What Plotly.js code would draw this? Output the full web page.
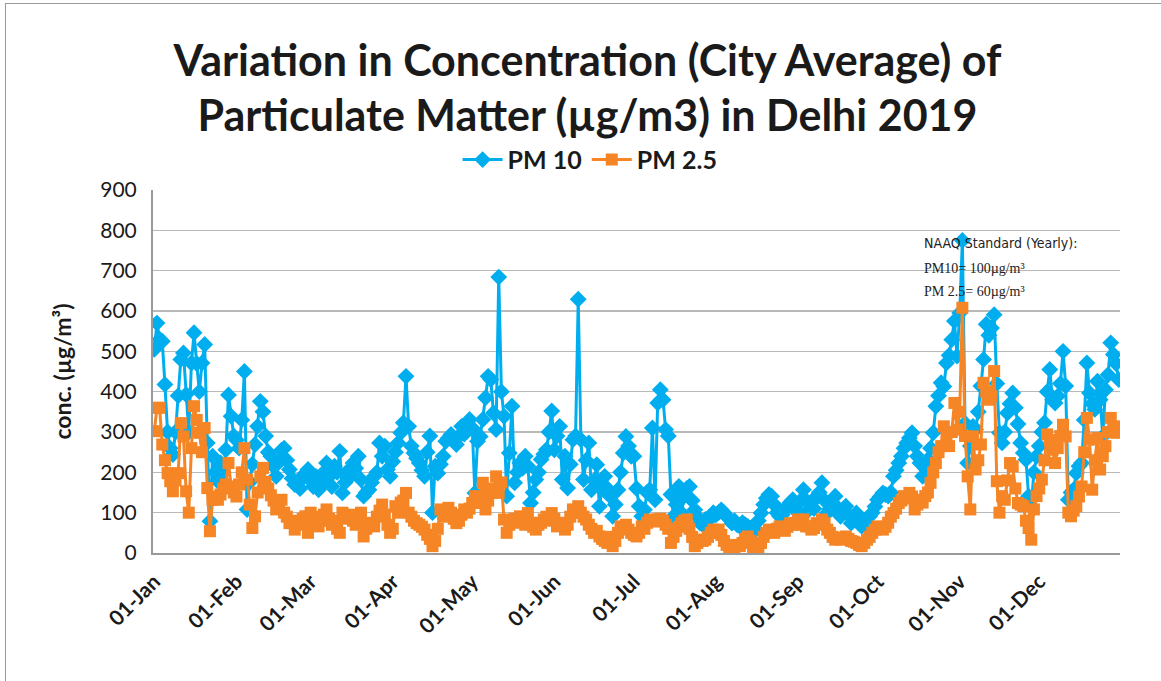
<!DOCTYPE html>
<html>
<head>
<meta charset="utf-8">
<script src="https://cdn.plot.ly/plotly-3.0.1.min.js"></script>
<style>
html,body{margin:0;padding:0;background:#fff;}
#frame{position:absolute;left:5px;top:3px;width:1160px;height:690px;border-left:1px solid #999;border-top:1px solid #999;}
#chart{position:absolute;left:0;top:0;width:1161px;height:681px;}
</style>
</head>
<body>
<div id="frame"></div>
<div id="chart"></div>
<script>
// Daily city-average concentrations, Delhi 2019 (µg/m3)
const startDate = '2019-01-01';
const pm10 = [
  // Jan
  505,570,530,525,418,300,260,244,300,390,480,496,393,300,471,546,470,400,471,517,273,79,240,200,178,223,200,256,392,339,290,
  // Feb
  280,260,330,450,108,176,220,269,314,376,350,290,250,240,215,190,225,255,260,230,207,185,170,178,160,185,198,207,
  // Mar
  180,165,190,157,170,200,223,190,165,215,200,252,149,175,203,190,223,210,240,182,141,150,157,175,190,200,273,240,265,207,190,
  // Apr
  227,250,273,298,323,438,314,265,248,235,223,205,190,250,290,100,215,198,220,240,277,285,294,280,269,290,314,295,302,331,
  // May
  310,149,277,289,331,385,438,430,347,306,684,400,339,141,248,364,174,200,223,210,240,215,124,150,182,200,232,245,256,300,352,
  // Jun
  256,290,314,182,240,161,220,281,290,629,281,182,230,273,157,180,219,116,160,190,160,141,91,120,157,200,248,289,265,240,
  // Jul
  240,160,116,91,107,150,157,310,132,372,405,380,306,290,145,91,120,165,99,141,160,165,130,107,90,74,70,83,80,91,100,
  // Aug
  95,100,107,100,91,85,74,80,70,66,75,70,66,60,65,58,80,99,120,136,145,141,120,100,91,95,107,115,125,132,110,
  // Sep
  99,130,157,130,107,124,110,141,150,174,130,99,110,125,141,110,91,105,116,95,74,85,99,80,66,74,70,91,100,115,
  // Oct
  132,140,149,145,141,150,190,205,223,240,260,273,285,298,265,240,223,190,210,232,260,298,364,390,422,413,471,490,529,575,488,
  // Nov
  595,775,322,223,265,314,306,350,414,480,567,540,558,591,420,298,273,300,347,370,397,360,320,273,248,232,141,116,200,240,
  // Dec
  265,300,323,400,455,380,372,389,420,500,414,132,150,157,198,215,223,330,471,397,370,356,426,380,289,405,442,521,492,470,430
];
const pm25 = [
  // Jan
  302,360,360,269,230,198,178,153,180,198,322,289,153,100,260,364,330,298,250,310,161,54,132,140,132,145,160,170,223,165,150,
  // Feb
  140,170,200,260,182,120,62,91,150,190,211,176,160,143,130,108,120,132,100,90,74,80,58,75,70,85,91,50,
  // Mar
  100,90,75,66,80,95,108,85,70,80,60,50,100,85,90,95,80,70,85,100,41,60,75,70,66,90,105,120,95,70,50,
  // Apr
  60,116,100,125,130,149,100,90,80,74,70,65,58,45,35,17,30,60,108,95,90,112,100,85,74,80,95,108,100,110,
  // May
  124,141,124,140,174,108,130,150,160,190,149,175,83,50,70,80,85,75,91,80,70,99,75,65,58,70,75,83,90,80,99,
  // Jun
  85,66,70,75,58,70,90,108,100,116,100,90,83,70,60,50,55,41,35,30,25,40,17,30,50,66,60,70,58,50,
  // Jul
  45,41,50,66,60,75,83,80,78,83,85,80,70,60,25,40,55,65,74,80,83,60,40,17,25,33,30,33,40,50,58,
  // Aug
  50,58,45,30,20,10,8,15,20,17,25,35,41,30,15,8,12,25,40,50,58,55,50,60,66,60,55,65,74,70,75,
  // Sep
  83,70,83,66,66,58,62,74,70,83,75,58,50,40,33,35,33,38,41,35,30,28,25,20,17,25,33,40,50,58,
  // Oct
  66,60,58,65,75,90,99,110,124,130,141,135,149,140,108,120,132,125,141,150,174,200,223,250,265,314,290,265,300,372,306,
  // Nov
  350,608,290,190,108,289,207,230,269,422,400,380,389,451,178,100,141,132,180,223,215,160,124,120,116,80,62,33,108,141,
  // Dec
  160,182,230,294,280,256,223,260,290,318,289,100,91,105,116,140,165,250,335,281,157,230,285,207,240,265,300,335,310,298,314
];
const seriesNames = ['PM 10', 'PM 2.5'];
const tickDates = ['2019-01-01','2019-02-01','2019-03-01','2019-04-01','2019-05-01','2019-06-01',
                   '2019-07-01','2019-08-01','2019-09-01','2019-10-01','2019-11-01','2019-12-01'];
const tickLabels = ['01-Jan','01-Feb','01-Mar','01-Apr','01-May','01-Jun',
                    '01-Jul','01-Aug','01-Sep','01-Oct','01-Nov','01-Dec'];
const yTicks = [0,100,200,300,400,500,600,700,800,900];
const noteLines = ['NAAQ Standard (Yearly):','PM10= 100µg/m³','PM 2.5= 60µg/m³'];

function dayList(n){
  const out = [];
  const t0 = Date.UTC(2019,0,1);
  for(let i=0;i<n;i++){
    const d = new Date(t0 + i*86400000);
    out.push(d.toISOString().slice(0,10));
  }
  return out;
}
const dates = dayList(pm10.length);

const traces = [
  {x: dates, y: pm10, name: '<b>' + seriesNames[0] + '</b>', type: 'scatter', mode: 'lines+markers',
   line: {color: '#00AEEF', width: 3},
   marker: {symbol: 'diamond', size: 13, color: '#00AEEF'}},
  {x: dates, y: pm25, name: '<b>' + seriesNames[1] + '</b>', type: 'scatter', mode: 'lines+markers',
   line: {color: '#F58525', width: 3},
   marker: {symbol: 'square', size: 12, color: '#F58525'}}
];

const layout = {
  width: 1161, height: 681,
  margin: {l: 153, r: 41, t: 190, b: 128},
  paper_bgcolor: 'rgba(0,0,0,0)', plot_bgcolor: '#fff',
  font: {family: 'Lato, "Open Sans", sans-serif', color: '#1a1a1a'},
  title: {text: 'Variation in Concentration (City Average) of<br>Particulate Matter (µg/m3) in Delhi 2019',
          font: {size: 43, weight: 'bold', color: '#1a1a1a'},
          x: 0.506, xanchor: 'center', y: 0.889, yanchor: 'middle', yref: 'container'},
  showlegend: true,
  legend: {orientation: 'h', x: 0.452, xanchor: 'center', y: 1.083, yanchor: 'middle',
           font: {size: 25, color: '#1a1a1a'}, itemwidth: 40, tracegroupgap: 0},
  xaxis: {type: 'date', range: ['2018-12-31 12:00', '2019-12-31 12:00'],
          tickvals: tickDates, ticktext: tickLabels, tickangle: -45,
          tickfont: {size: 21, weight: 'bold', color: '#1a1a1a'},
          showgrid: false, zeroline: false, showline: true, linecolor: '#999', linewidth: 2,
          ticks: '', ticklabelstandoff: 6},
  yaxis: {range: [0, 900], tickvals: yTicks, tickfont: {size: 21, color: '#1a1a1a'},
          showgrid: true, gridcolor: '#b9b9b9', gridwidth: 1.5, zeroline: false,
          showline: true, linecolor: '#999', linewidth: 2, ticks: '', ticklabelstandoff: 10,
          title: {text: '<b>conc. (µg/m³)</b>', font: {size: 23, color: '#1a1a1a'}, standoff: 22}},
  annotations: [
    {xref: 'paper', yref: 'paper', x: 0.795, y: 0.855, xanchor: 'left', yanchor: 'middle', showarrow: false,
     text: noteLines[0], font: {family: '"DejaVu Sans Condensed", "Liberation Sans Narrow", "Liberation Sans", sans-serif', size: 14, color: '#222'}},
    {xref: 'paper', yref: 'paper', x: 0.795, y: 0.785, xanchor: 'left', yanchor: 'middle', showarrow: false,
     text: noteLines[1], font: {family: '"Liberation Serif", serif', size: 14, color: '#222'}},
    {xref: 'paper', yref: 'paper', x: 0.795, y: 0.72, xanchor: 'left', yanchor: 'middle', showarrow: false,
     text: noteLines[2], font: {family: '"Liberation Serif", serif', size: 14, color: '#222'}}
  ]
};

Plotly.newPlot('chart', traces, layout, {displayModeBar: false, staticPlot: true});
</script>
</body>
</html>
